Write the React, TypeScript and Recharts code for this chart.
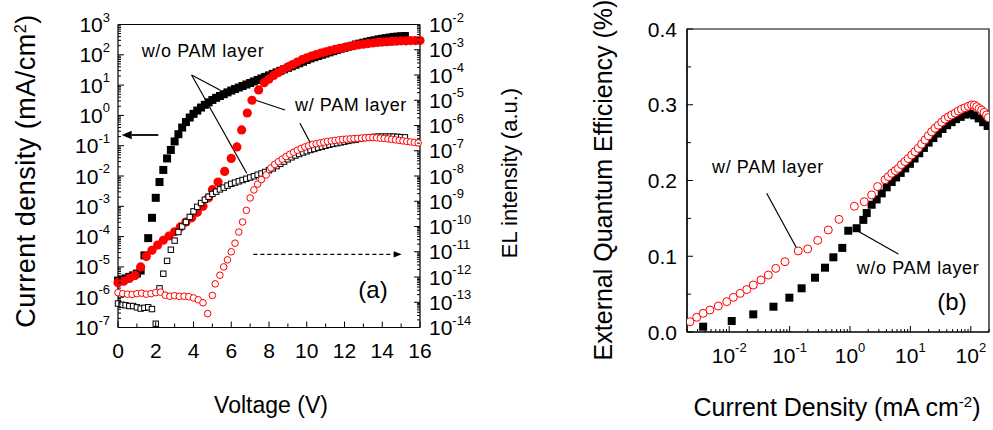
import React from "react";
import {
  ReferenceArea,
  ReferenceLine,
  Scatter,
  ScatterChart,
  XAxis,
  YAxis,
} from "recharts";

const FONT = "'Liberation Sans', Arial, Helvetica, sans-serif";
const RED = "#ff0000";

// ---------- panel (a): current density and EL intensity vs voltage ----------
// w/o PAM device, bias grid (V)
const V_WO = [
  0, 0.2, 0.4, 0.6, 0.8, 1, 1.2, 1.4, 1.6, 1.8,
  2, 2.2, 2.4, 2.6, 2.8, 3, 3.2, 3.4, 3.6, 3.8,
  4, 4.2, 4.4, 4.6, 4.8, 5, 5.2, 5.4, 5.6, 5.8,
  6, 6.2, 6.4, 6.6, 6.8, 7, 7.2, 7.4, 7.6, 7.8,
  8, 8.2, 8.4, 8.6, 8.8, 9, 9.2, 9.4, 9.6, 9.8,
  10, 10.2, 10.4, 10.6, 10.8, 11, 11.2, 11.4, 11.6, 11.8,
  12, 12.2, 12.4, 12.6, 12.8, 13, 13.2, 13.4, 13.6, 13.8,
  14, 14.2, 14.4, 14.6, 14.8, 15, 15.2,
];
// log10 of current density (mA/cm2), w/o PAM
const J_WO_LOG = [
  -5.45, -5.42, -5.38, -5.33, -5.28, -5.22, -5.12, -4.62, -4.05, -3.38,
  -2.72, -2.2, -1.8, -1.42, -1.14, -0.86, -0.62, -0.4, -0.22, -0.07,
  0.05, 0.16, 0.26, 0.35, 0.43, 0.51, 0.58, 0.64, 0.7, 0.76,
  0.82, 0.87, 0.92, 0.97, 1.02, 1.07, 1.12, 1.17, 1.22, 1.27,
  1.32, 1.37, 1.42, 1.47, 1.52, 1.57, 1.62, 1.67, 1.72, 1.77,
  1.83, 1.88, 1.92, 1.96, 2.0, 2.04, 2.08, 2.12, 2.16, 2.2,
  2.23, 2.27, 2.3, 2.34, 2.37, 2.4, 2.43, 2.46, 2.48, 2.51,
  2.53, 2.55, 2.57, 2.59, 2.6, 2.61, 2.62,
];
// log10 of EL intensity (a.u.), w/o PAM
const EL_WO_LOG = [
  -13.05, -13.1, -13.12, -13.15, -13.15, -13.2, -13.25, -13.22, -13.2, -13.27,
  -13.85, -12.45, -11.87, -11.36, -10.92, -10.56, -10.22, -10.0, -9.82, -9.62,
  -9.4, -9.22, -9.07, -8.94, -8.82, -8.71, -8.62, -8.53, -8.46, -8.38,
  -8.31, -8.26, -8.21, -8.16, -8.11, -8.06, -8.01, -7.95, -7.9, -7.84,
  -7.77, -7.7, -7.61, -7.52, -7.43, -7.34, -7.26, -7.19, -7.13, -7.07,
  -7.02, -6.97, -6.93, -6.88, -6.84, -6.8, -6.76, -6.73, -6.7, -6.67,
  -6.64, -6.61, -6.58, -6.56, -6.53, -6.5, -6.48, -6.46, -6.45, -6.44,
  -6.44, -6.44, -6.44, -6.44, -6.45, -6.46, -6.47,
];

// w/ PAM device, current density
const V_W_J = [
  0, 0.3, 0.6, 0.9, 1.2, 1.5, 1.8, 2.1, 2.4, 2.7,
  3, 3.3, 3.6, 3.9, 4.2, 4.5, 4.8, 5, 5.3, 5.65,
  6, 6.3, 6.55, 6.85, 7.1, 7.45, 7.75,
  8, 8.25, 8.5, 8.75, 9, 9.25, 9.5, 9.75, 10, 10.25,
  10.5, 10.75, 11, 11.25, 11.5, 11.75, 12, 12.25, 12.5, 12.75,
  13, 13.25, 13.5, 13.75, 14, 14.25, 14.5, 14.75, 15, 15.25,
  15.5, 15.75, 16,
];
const J_W_LOG = [
  -5.52, -5.47, -5.38, -5.28, -5.0, -4.66, -4.45, -4.28, -4.12, -3.98,
  -3.84, -3.68, -3.52, -3.38, -3.2, -3.0, -2.72, -2.45, -2.2, -1.85,
  -1.42, -1.04, -0.48, 0.08, 0.5, 0.84, 1.08,
  1.2, 1.32, 1.42, 1.52, 1.6, 1.68, 1.76, 1.84, 1.9, 1.96,
  2.01, 2.06, 2.1, 2.14, 2.18, 2.21, 2.24, 2.27, 2.3, 2.33,
  2.35, 2.37, 2.39, 2.41, 2.42, 2.43, 2.44, 2.45, 2.46, 2.46,
  2.47, 2.47, 2.47,
];

// w/ PAM device, EL intensity
const V_W_EL = [
  0, 0.25, 0.5, 0.75, 1, 1.25, 1.5, 1.75, 2, 2.25,
  2.5, 2.75, 3, 3.25, 3.5, 3.75, 4, 4.25, 4.5, 4.75,
  5, 5.15, 5.4, 5.6, 5.8, 6, 6.2, 6.4, 6.6, 6.8,
  7, 7.2, 7.4, 7.6, 7.85,
  8.1, 8.3, 8.5, 8.7, 8.9, 9.1, 9.3, 9.5, 9.7, 9.9,
  10.1, 10.3, 10.5, 10.7, 10.9, 11.1, 11.3, 11.5, 11.7, 11.9,
  12.1, 12.3, 12.5, 12.7, 12.9, 13.1, 13.3, 13.5, 13.7, 13.9,
  14.1, 14.3, 14.5, 14.7, 14.9, 15.1, 15.3, 15.5, 15.7, 15.9,
];
const EL_W_LOG = [
  -12.62, -12.66, -12.68, -12.69, -12.66, -12.64, -12.68, -12.66, -12.62, -12.6,
  -12.72, -12.76, -12.74, -12.77, -12.76, -12.78, -12.83, -12.9, -13.02, -13.45,
  -12.73, -12.27, -11.93, -11.6, -11.32, -11.0, -10.66, -10.22, -9.82, -9.36,
  -8.87, -8.55, -8.32, -8.14, -7.96,
  -7.68, -7.54, -7.43, -7.33, -7.23, -7.14, -7.06, -6.98, -6.91, -6.85,
  -6.8, -6.75, -6.72, -6.69, -6.66, -6.63, -6.61, -6.59, -6.57, -6.55,
  -6.54, -6.53, -6.52, -6.51, -6.5, -6.49, -6.48, -6.48, -6.49, -6.5,
  -6.51, -6.53, -6.55, -6.57, -6.59, -6.61, -6.63, -6.65, -6.67, -6.69,
];

// ---------- panel (b): EQE vs current density ----------
const JB_WO = [
  0.0037, 0.011, 0.025, 0.054, 0.099, 0.158, 0.263, 0.385, 0.53, 0.745,
  0.936, 1.29, 1.66, 1.89, 2.28, 2.76, 3.35, 4.05, 4.9, 5.8,
  6.9, 8.2, 9.8, 11.7, 14, 16.7, 20, 24, 28.5, 34,
  40.5, 48, 57, 68, 81, 96, 114, 135, 160, 190,
];
const EQE_WO = [
  0.007, 0.0145, 0.0233, 0.0334, 0.0453, 0.0577, 0.0717, 0.0849, 0.0986, 0.111,
  0.1337, 0.137, 0.148, 0.157, 0.168, 0.175, 0.183, 0.191, 0.198, 0.204,
  0.21, 0.216, 0.222, 0.229, 0.236, 0.243, 0.25, 0.256, 0.262, 0.268,
  0.273, 0.277, 0.281, 0.284, 0.287, 0.288, 0.286, 0.282, 0.277, 0.272,
];
const JB_W = [
  0.00224, 0.0029, 0.0037, 0.0048, 0.0066, 0.0091, 0.0117, 0.0152, 0.0195, 0.025,
  0.0336, 0.0444, 0.0589, 0.0838, 0.139, 0.199, 0.292, 0.437, 0.657, 1.18,
  1.72, 2.28, 2.86, 3.8, 4.3, 4.9, 5.6, 6.3, 7.1, 8.1,
  9.2, 10.5, 11.9, 13.5, 15.3, 17.4, 19.8, 22.4, 25.5, 29,
  33, 37.3, 42.5, 48.2, 55, 62, 70, 80, 91, 103,
  114, 125, 138, 151, 166, 182, 195,
];
const EQE_W = [
  0.0136, 0.0194, 0.0247, 0.029, 0.0343, 0.04, 0.0458, 0.051, 0.056, 0.062,
  0.0686, 0.0752, 0.084, 0.0928, 0.107, 0.1096, 0.121, 0.1347, 0.1487, 0.166,
  0.172, 0.181, 0.192, 0.201, 0.205, 0.2095, 0.213, 0.216, 0.221, 0.225,
  0.229, 0.2337, 0.238, 0.2425, 0.248, 0.2535, 0.259, 0.2644, 0.269, 0.273,
  0.277, 0.281, 0.284, 0.2865, 0.289, 0.2917, 0.294, 0.296, 0.298, 0.2997,
  0.2995, 0.2975, 0.295, 0.293, 0.29, 0.2865, 0.283,
];

// ---------- ticks ----------
const VOLT_TICKS = [0, 1, 2, 3, 4, 5, 6, 7, 8, 9, 10, 11, 12, 13, 14, 15, 16];
const J_DECADES = [1e-7, 1e-6, 1e-5, 1e-4, 1e-3, 1e-2, 1e-1, 1, 10, 100, 1000];
const EL_DECADES = [
  1e-14, 1e-13, 1e-12, 1e-11, 1e-10, 1e-9, 1e-8, 1e-7, 1e-6, 1e-5, 1e-4, 1e-3, 1e-2,
];
const JB_DECADES = [0.001, 0.01, 0.1, 1, 10, 100];
const EQE_TICKS = [0, 0.05, 0.1, 0.15, 0.2, 0.25, 0.3, 0.35, 0.4];

function withMinors(decades: number[], lo: number, hi: number) {
  const out: number[] = [];
  decades.forEach((d) => {
    for (let m = 1; m <= 9; m++) {
      const v = d * m;
      if (v >= lo * 0.999 && v <= hi * 1.001) out.push(v);
    }
  });
  return out;
}
const J_TICKS = withMinors(J_DECADES, 1e-7, 1e3);
const EL_TICKS = withMinors(EL_DECADES, 1e-14, 1e-2);
const JB_TICKS = withMinors(JB_DECADES, 0.002, 200);

const toPoints = (xs: number[], ys: number[], logY = false) =>
  xs.map((x, i) => ({ x, y: logY ? Math.pow(10, ys[i]) : ys[i] }));

const jWo = toPoints(V_WO, J_WO_LOG, true);
const elWo = toPoints(V_WO, EL_WO_LOG, true);
const jW = toPoints(V_W_J, J_W_LOG, true);
const elW = toPoints(V_W_EL, EL_W_LOG, true);
const eqeWo = toPoints(JB_WO, EQE_WO);
const eqeW = toPoints(JB_W, EQE_W);

// ---------- small svg helpers ----------
const isDecade = (v: number) => {
  const e = Math.log10(v);
  return Math.abs(e - Math.round(e)) < 1e-6;
};

function Pow10(props: { x: number; y: number; v: number; anchor: "start" | "middle" | "end" }) {
  const exp = Math.round(Math.log10(props.v));
  return (
    <text
      x={props.x}
      y={props.y}
      textAnchor={props.anchor}
      dominantBaseline="central"
      fontFamily={FONT}
      fontSize={21}
      fill="#000"
    >
      10
      <tspan dy={-8} fontSize={13}>
        {exp}
      </tspan>
    </text>
  );
}

const VoltTick = (side: "bottom" | "top") => (p: any) => {
  const { x, y } = p;
  const v = p.payload.value;
  const major = v % 2 === 0;
  const dir = side === "bottom" ? -1 : 1;
  return (
    <g>
      <line x1={x} y1={y} x2={x} y2={y + dir * (major ? 6 : 4)} stroke="#000" />
      {side === "bottom" && major && (
        <text x={x} y={y + 23} textAnchor="middle" dominantBaseline="central" fontFamily={FONT} fontSize={21}>
          {v}
        </text>
      )}
    </g>
  );
};

const LogTickY = (side: "left" | "right") => (p: any) => {
  const { x, y } = p;
  const v = p.payload.value;
  const major = isDecade(v);
  const dir = side === "left" ? 1 : -1;
  return (
    <g>
      <line x1={x} y1={y} x2={x + dir * (major ? 6 : 3)} y2={y} stroke="#000" />
      {major &&
        (side === "left" ? (
          <Pow10 x={x - 8} y={y} v={v} anchor="end" />
        ) : (
          <Pow10 x={x + 9} y={y} v={v} anchor="start" />
        ))}
    </g>
  );
};

const LogTickX = (p: any) => {
  const { x, y } = p;
  const v = p.payload.value;
  const major = isDecade(v);
  return (
    <g>
      <line x1={x} y1={y} x2={x} y2={y - (major ? 6 : 3)} stroke="#000" />
      {major && <Pow10 x={x} y={y + 23} v={v} anchor="middle" />}
    </g>
  );
};

const EqeTick = (p: any) => {
  const { x, y } = p;
  const v = p.payload.value;
  const major = Math.abs(v * 10 - Math.round(v * 10)) < 1e-6;
  return (
    <g>
      <line x1={x} y1={y} x2={x + (major ? 6 : 4)} y2={y} stroke="#000" />
      {major && (
        <text x={x - 10} y={y} textAnchor="end" dominantBaseline="central" fontFamily={FONT} fontSize={21}>
          {v.toFixed(1)}
        </text>
      )}
    </g>
  );
};

const arrowShape = (dashed: boolean) => (p: any) => {
  const { x1, y1, x2, y2 } = p;
  const a = Math.atan2(y2 - y1, x2 - x1);
  const len = dashed ? 8 : 10;
  const half = dashed ? 3.2 : 4.2;
  const bx = x2 - len * Math.cos(a);
  const by = y2 - len * Math.sin(a);
  const pts = [
    [x2, y2],
    [bx - half * Math.sin(a), by + half * Math.cos(a)],
    [bx + half * Math.sin(a), by - half * Math.cos(a)],
  ]
    .map((q) => q.join(","))
    .join(" ");
  return (
    <g>
      <line
        x1={x1}
        y1={y1}
        x2={bx}
        y2={by}
        stroke="#000"
        strokeWidth={dashed ? 1.2 : 1.8}
        strokeDasharray={dashed ? "4 3" : undefined}
      />
      <polygon points={pts} fill="#000" />
    </g>
  );
};

// markers
const filledSquare = (s: number) => (p: any) => (
  <rect x={p.cx - s / 2} y={p.cy - s / 2} width={s} height={s} fill="#000" />
);
const openSquare = (p: any) => (
  <rect x={p.cx - 2.7} y={p.cy - 2.7} width={5.4} height={5.4} fill="#fff" stroke="#000" strokeWidth={1} />
);
const filledCircle = (p: any) => <circle cx={p.cx} cy={p.cy} r={4.6} fill={RED} />;
const openCircle = (r: number) => (p: any) => (
  <circle cx={p.cx} cy={p.cy} r={r} fill="#fff" stroke={RED} strokeWidth={1} />
);

function Txt(props: {
  x: number;
  y: number;
  size: number;
  rotate?: boolean;
  spacing?: number;
  children: React.ReactNode;
}) {
  return (
    <div
      style={{
        position: "absolute",
        left: props.x,
        top: props.y,
        transform: `translate(-50%, -50%)${props.rotate ? " rotate(-90deg)" : ""}`,
        fontFamily: FONT,
        fontSize: props.size,
        letterSpacing: props.spacing ?? 0,
        whiteSpace: "nowrap",
        lineHeight: 1,
        color: "#000",
      }}
    >
      {props.children}
    </div>
  );
}

const sup: React.CSSProperties = { fontSize: "0.6em", verticalAlign: "0.6em" };

export default function App() {
  return (
    <div
      style={{
        position: "absolute",
        left: 0,
        top: 0,
        width: 993,
        height: 430,
        background: "#fff",
        overflow: "hidden",
      }}
    >
      <div style={{ position: "absolute", left: 0, top: 0 }}>
        <ScatterChart width={520} height={430} margin={{ top: 23.5, right: 99, bottom: 101.5, left: 117 }}>
          <XAxis
            xAxisId="b"
            dataKey="x"
            type="number"
            domain={[0, 16]}
            ticks={VOLT_TICKS}
            interval={0}
            height={1}
            tickSize={0}
            tickMargin={0}
            tickLine={false}
            tick={VoltTick("bottom")}
            axisLine={{ stroke: "#000", strokeWidth: 1.2 }}
          />
          <XAxis
            xAxisId="t"
            orientation="top"
            dataKey="x"
            type="number"
            domain={[0, 16]}
            ticks={VOLT_TICKS}
            interval={0}
            height={1}
            tickSize={0}
            tickMargin={0}
            tickLine={false}
            tick={VoltTick("top")}
            axisLine={{ stroke: "#000", strokeWidth: 1.2 }}
          />
          <YAxis
            yAxisId="L"
            dataKey="y"
            type="number"
            scale="log"
            domain={[1e-7, 1e3]}
            allowDataOverflow
            ticks={J_TICKS}
            interval={0}
            width={1}
            tickSize={0}
            tickMargin={0}
            tickLine={false}
            tick={LogTickY("left")}
            axisLine={{ stroke: "#000", strokeWidth: 1.2 }}
          />
          <YAxis
            yAxisId="R"
            orientation="right"
            dataKey="y"
            type="number"
            scale="log"
            domain={[1e-14, 1e-2]}
            allowDataOverflow
            ticks={EL_TICKS}
            interval={0}
            width={1}
            tickSize={0}
            tickMargin={0}
            tickLine={false}
            tick={LogTickY("right")}
            axisLine={{ stroke: "#000", strokeWidth: 1.2 }}
          />
          <Scatter data={jWo} xAxisId="b" yAxisId="L" shape={filledSquare(8)} isAnimationActive={false} />
          <Scatter data={jW} xAxisId="b" yAxisId="L" shape={filledCircle} isAnimationActive={false} />
          <Scatter data={elWo} xAxisId="b" yAxisId="R" shape={openSquare} isAnimationActive={false} />
          <Scatter data={elW} xAxisId="b" yAxisId="R" shape={openCircle(3.3)} isAnimationActive={false} />
          {/* pointer lines */}
          <ReferenceLine xAxisId="b" yAxisId="L" ifOverflow="visible" stroke="#000" strokeWidth={1.2}
            segment={[{ x: 3.9, y: 21.5 }, { x: 5.4, y: 6.9 }]} />
          <ReferenceLine xAxisId="b" yAxisId="L" ifOverflow="visible" stroke="#000" strokeWidth={1.2}
            segment={[{ x: 3.9, y: 21.5 }, { x: 6.82, y: 0.0123 }]} />
          <ReferenceLine xAxisId="b" yAxisId="L" ifOverflow="visible" stroke="#000" strokeWidth={1.2}
            segment={[{ x: 8.85, y: 1.51 }, { x: 7.26, y: 3.22 }]} />
          <ReferenceLine xAxisId="b" yAxisId="L" ifOverflow="visible" stroke="#000" strokeWidth={1.2}
            segment={[{ x: 9.64, y: 0.548 }, { x: 10.35, y: 0.0809 }]} />
          {/* axis arrows */}
          <ReferenceLine xAxisId="b" yAxisId="L" ifOverflow="visible" shape={arrowShape(false)}
            segment={[{ x: 2.135, y: 0.2255 }, { x: 0.196, y: 0.2255 }]} />
          <ReferenceLine xAxisId="b" yAxisId="L" ifOverflow="visible" shape={arrowShape(true)}
            segment={[{ x: 7.17, y: 2.6e-5 }, { x: 15.03, y: 2.6e-5 }]} />
        </ScatterChart>
      </div>

      <div style={{ position: "absolute", left: 560, top: 0 }}>
        <ScatterChart width={433} height={430} margin={{ top: 29, right: 4, bottom: 97, left: 126 }}>
          <XAxis
            xAxisId="b"
            dataKey="x"
            type="number"
            scale="log"
            domain={[0.002, 200]}
            allowDataOverflow
            ticks={JB_TICKS}
            interval={0}
            height={1}
            tickSize={0}
            tickMargin={0}
            tickLine={false}
            tick={LogTickX}
            axisLine={{ stroke: "#000", strokeWidth: 1.2 }}
          />
          <YAxis
            yAxisId="L"
            dataKey="y"
            type="number"
            domain={[0, 0.4]}
            allowDataOverflow
            ticks={EQE_TICKS}
            interval={0}
            width={1}
            tickSize={0}
            tickMargin={0}
            tickLine={false}
            tick={EqeTick}
            axisLine={{ stroke: "#000", strokeWidth: 1.2 }}
          />
          <ReferenceArea xAxisId="b" yAxisId="L" x1={0.002} x2={200} y1={0} y2={0.4}
            ifOverflow="visible" fill="none" stroke="#000" strokeWidth={1.2} />
          <Scatter data={eqeWo} xAxisId="b" yAxisId="L" shape={filledSquare(8)} isAnimationActive={false} />
          <Scatter data={eqeW} xAxisId="b" yAxisId="L" shape={openCircle(4)} isAnimationActive={false} />
          <ReferenceLine xAxisId="b" yAxisId="L" ifOverflow="visible" stroke="#000" strokeWidth={1.2}
            segment={[{ x: 0.0417, y: 0.1831 }, { x: 0.131, y: 0.1105 }]} />
          <ReferenceLine xAxisId="b" yAxisId="L" ifOverflow="visible" stroke="#000" strokeWidth={1.2}
            segment={[{ x: 6.3, y: 0.103 }, { x: 1.41, y: 0.1324 }]} />
        </ScatterChart>
      </div>

      {/* text layer */}
      <div style={{ position: "absolute", left: 0, top: 0, width: 993, height: 430, pointerEvents: "none" }}>
        <Txt x={26} y={171} size={27} rotate spacing={0.5}>
          Current density (mA/cm<span style={sup}>2</span>)
        </Txt>
        <Txt x={510} y={173} size={22} rotate>
          EL intensity (a.u.)
        </Txt>
        <Txt x={271} y={405} size={23}>
          Voltage (V)
        </Txt>
        <Txt x={603} y={180} size={25} rotate>
          External Quantum Efficiency (%)
        </Txt>
        <Txt x={837} y={407} size={25}>
          Current Density (mA cm<span style={sup}>-2</span>)
        </Txt>
        <Txt x={203} y={51} size={18} spacing={0.6}>
          w/o PAM layer
        </Txt>
        <Txt x={351} y={105} size={18} spacing={0.6}>
          w/ PAM layer
        </Txt>
        <Txt x={373} y={290} size={24}>
          (a)
        </Txt>
        <Txt x={768} y={167} size={18} spacing={0.6}>
          w/ PAM layer
        </Txt>
        <Txt x={918} y={268} size={18} spacing={0.6}>
          w/o PAM layer
        </Txt>
        <Txt x={952} y={302} size={24}>
          (b)
        </Txt>
      </div>
    </div>
  );
}
